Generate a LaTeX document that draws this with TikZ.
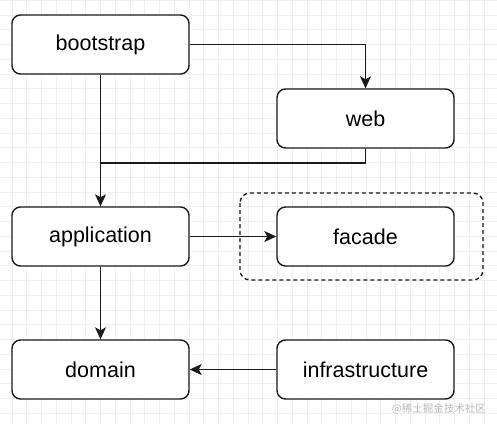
\documentclass[tikz,border=0pt]{standalone}
\usepackage{fontspec}
\setmainfont{Liberation Sans}
\newfontfamily\cjk{Noto Sans CJK SC}
\usetikzlibrary{arrows.meta,positioning}
\definecolor{gridc}{HTML}{F0F0F0}
\definecolor{linec}{HTML}{1A1A1A}
\tikzset{
  box/.style={draw=linec,line width=1.4pt,rounded corners=8.5pt,fill=white,
    minimum width=177pt,minimum height=59pt,inner sep=0pt,
    font=\fontsize{21.5}{24}\selectfont},
  conn/.style={draw=linec,line width=1.4pt},
  arr/.style={conn,-{Stealth[length=12pt,width=11pt,inset=3pt]}},
  group/.style={draw=linec,line width=1.4pt,dash pattern=on 4pt off 3pt,rounded corners=10pt}
}
\begin{document}
\begin{tikzpicture}[x=1pt,y=-1pt]
\useasboundingbox (0,0) rectangle (497,424);
\fill[white] (0,0) rectangle (497,424);
% grid
\foreach \i in {0,...,34} {
  \pgfmathsetmacro{\gx}{12+14.75*(\i-1)}
  \draw[gridc,line width=0.6pt] (\gx,0) -- (\gx,424);
}
\foreach \i in {0,...,30} {
  \pgfmathsetmacro{\gy}{15+14.75*(\i-2)}
  \draw[gridc,line width=0.6pt] (0,\gy) -- (497,\gy);
}
% group
\draw[group] (240,193) rectangle (483,280);
% nodes
\node[box] (bootstrap) at (100.5,44.5) {bootstrap};
\node[box] (web) at (365.5,118.5) {web};
\node[box] (application) at (100.5,236.5) {application};
\node[box] (facade) at (365.5,236.5) {facade};
\node[box] (domain) at (100.5,369.5) {domain};
\node[box] (infra) at (365.5,369.5) {infrastructure};
\coordinate (jn) at (100.5,163);
% connectors
\draw[arr] (bootstrap.east) -| (web.north);
\draw[arr] (bootstrap.south) -- (application.north);
\draw[conn] (web.south) |- (jn);
\draw[arr] (application.east) -- (facade.west);
\draw[arr] (application.south) -- (domain.north);
\draw[arr] (infra.west) -- (domain.east);
% watermark
\node[text=gray!55,font=\cjk\fontsize{10.5}{12}\selectfont,anchor=east,inner sep=0pt] (wm) at (486,409) {@稀土掘金技术社区};
\end{tikzpicture}
\end{document}
